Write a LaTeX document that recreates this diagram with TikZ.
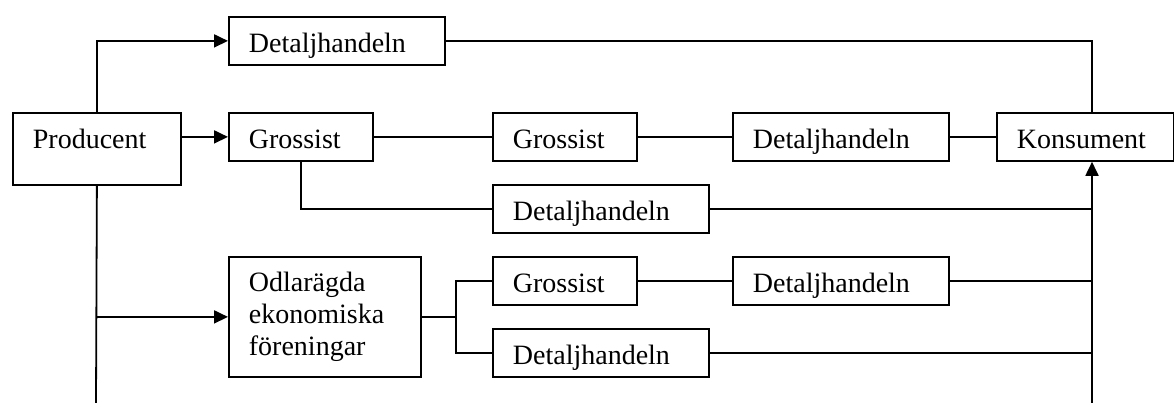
\documentclass[tikz,border=0pt]{standalone}
\usepackage{fontspec}
\setmainfont{Liberation Serif}
\usetikzlibrary{arrows.meta}
\begin{document}
\begin{tikzpicture}[x=1pt,y=-1pt,
  box/.style={draw, line width=1.8pt, rectangle, anchor=north west, inner xsep=20pt, inner ysep=0pt,
    align=left, font=\fontsize{28}{32}\selectfont},
  one/.style={box, minimum height=48pt, text height=24pt, text depth=0pt},
  ln/.style={line width=1.8pt},
  arr/.style={ln, -{Triangle[length=14pt,width=13pt]}}]
\useasboundingbox (0,0) rectangle (1174,403);
% boxes
\node[one, text width=176pt] (d1) at (228,16) {Detaljhandeln};
\node[box, text width=128pt, minimum height=72pt, text height=24pt, text depth=24pt] (prod) at (12,112) {Producent};
\node[one, text width=104pt] (g1) at (228,112) {Grossist};
\node[one, text width=104pt] (g2) at (492,112) {Grossist};
\node[one, text width=176pt] (d2) at (732,112) {Detaljhandeln};
\node[one, text width=137pt] (kons) at (996,112) {Konsument};
\node[one, text width=176pt] (d3) at (492,184) {Detaljhandeln};
\node[box, text width=152pt, minimum height=120pt] (odla) at (228,256) {Odlarägda\\ekonomiska\\föreningar};
\node[one, text width=104pt] (g3) at (492,256) {Grossist};
\node[one, text width=176pt] (d4) at (732,256) {Detaljhandeln};
\node[one, text width=176pt] (d5) at (492,328) {Detaljhandeln};
% coordinates
\coordinate (vr) at (1092,403);
\coordinate (pb) at (96,403);
\coordinate (br) at (456,316);
% connectors
\draw[arr] (prod.north) |- (d1.west);
\draw[arr] (prod.east |- g1.west) -- (g1.west);
\draw[ln] (prod.south) -- (pb);
\draw[arr] (prod.south |- odla.west) -- (odla.west);
\draw[ln] (d1.east) -| (vr |- kons.north);
\draw[ln] (g1.east) -- (g2.west);
\draw[ln] (g2.east) -- (d2.west);
\draw[ln] (d2.east) -- (kons.west);
\draw[ln] (g1.south) |- (d3.west);
\draw[ln] (d3.east) -- (d3.east -| vr);
\draw[ln] (odla.east) -- (odla.east -| br);
\draw[ln] (g3.west) -| (br) |- (d5.west);
\draw[ln] (g3.east) -- (d4.west);
\draw[ln] (d4.east) -- (d4.east -| vr);
\draw[ln] (d5.east) -- (d5.east -| vr);
\draw[arr] (vr) -- (vr |- kons.south);
\end{tikzpicture}
\end{document}
